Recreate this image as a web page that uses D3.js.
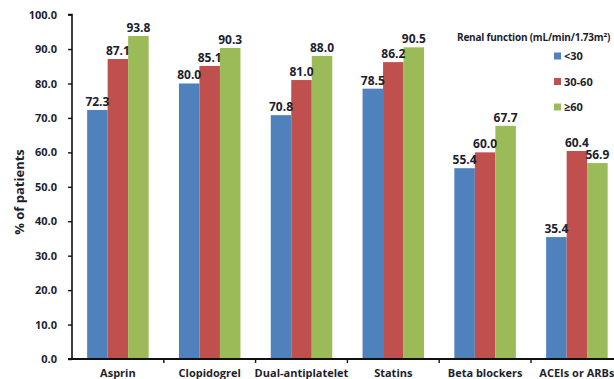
<!DOCTYPE html>
<html>
<head>
<meta charset="utf-8">
<script src="https://cdn.jsdelivr.net/npm/d3@7"></script>
<style>
  html, body { margin: 0; padding: 0; background: #fff; overflow: hidden; }
  svg { display: block; }
  text { font-family: "Open Sans", "Noto Sans", sans-serif; font-weight: bold; fill: #1e1e2e; }
</style>
</head>
<body>
<svg id="chart" width="614" height="379"></svg>
<script>
// Guideline-recommended therapy by renal function group
const categories = ["Asprin", "Clopidogrel", "Dual-antiplatelet", "Statins", "Beta blockers", "ACEIs or ARBs"];
const seriesNames = ["<30", "30-60", "≥60"];
const lt30   = [72.3, 80.0, 70.8, 78.5, 55.4, 35.4];
const mid    = [87.1, 85.1, 81.0, 86.2, 60.0, 60.4];
const ge60   = [93.8, 90.3, 88.0, 90.5, 67.7, 56.9];
const colors = ["#4f81bd", "#c0504d", "#9bbb59"];
const yTicks = [0, 10, 20, 30, 40, 50, 60, 70, 80, 90, 100];
const legendTitle = "Renal function (mL/min/1.73m²)";

const seriesValues = [lt30, mid, ge60];
const svg = d3.select("#chart");

const plotLeft = 72, plotBottom = 359, plotTop = 14.6;
const step = 91.8;
const pad = 0.33;

const x0 = d3.scaleBand()
  .domain(categories)
  .range([plotLeft, plotLeft + step * categories.length])
  .paddingInner(pad)
  .paddingOuter(pad / 2);

const x1 = d3.scaleBand()
  .domain(seriesNames)
  .range([0, x0.bandwidth()])
  .padding(0);

const y = d3.scaleLinear().domain([0, 100]).range([plotBottom, plotTop]);

// bars
const groups = svg.append("g").selectAll("g")
  .data(categories)
  .join("g")
  .attr("transform", c => `translate(${x0(c)},0)`);

groups.selectAll("rect")
  .data((c, i) => seriesNames.map((s, j) => ({ s, v: seriesValues[j][i], j })))
  .join("rect")
  .attr("x", d => x1(d.s))
  .attr("y", d => y(d.v))
  .attr("width", x1.bandwidth())
  .attr("height", d => y(0) - y(d.v))
  .attr("fill", d => colors[d.j]);

groups.selectAll("text.val")
  .data((c, i) => seriesNames.map((s, j) => ({ s, v: seriesValues[j][i], j })))
  .join("text")
  .attr("class", "val")
  .attr("x", d => x1(d.s) + x1.bandwidth() / 2)
  .attr("y", d => y(d.v) - 4)
  .attr("text-anchor", "middle")
  .style("font-size", "12px")
  .text(d => d.v.toFixed(1));

// y axis
const yAxis = d3.axisLeft(y)
  .tickValues(yTicks)
  .tickFormat(d3.format(".1f"))
  .tickSize(4)
  .tickPadding(11);

const yg = svg.append("g").attr("transform", `translate(${plotLeft},0)`).call(yAxis);
yg.select(".domain").attr("stroke", "#111").attr("stroke-width", 1.6).attr("d", `M-4,${plotTop}H0V${plotBottom}H-4`);
yg.selectAll(".tick line").attr("stroke", "#111").attr("stroke-width", 1.4);
yg.selectAll(".tick text").style("font-size", "11px").style("font-family", "\"Open Sans\", sans-serif").attr("fill", "#1e1e2e");

// x axis: labels centred under groups, ticks at group boundaries
const xAxis = d3.axisBottom(x0).tickSize(0).tickPadding(10);
const xg = svg.append("g").attr("transform", `translate(0,${plotBottom})`).call(xAxis);
xg.select(".domain").remove();
xg.selectAll(".tick text").style("font-size", "11px").style("font-family", "\"Open Sans\", sans-serif").attr("fill", "#1e1e2e");

svg.append("line")
  .attr("x1", plotLeft - 4).attr("x2", 614)
  .attr("y1", plotBottom).attr("y2", plotBottom)
  .attr("stroke", "#111").attr("stroke-width", 1.8);

svg.append("g").selectAll("line")
  .data(categories.slice(0, -1))
  .join("line")
  .attr("x1", c => x0(c) + x0.bandwidth() + (x0.step() - x0.bandwidth()) / 2)
  .attr("x2", c => x0(c) + x0.bandwidth() + (x0.step() - x0.bandwidth()) / 2)
  .attr("y1", plotBottom).attr("y2", plotBottom + 4)
  .attr("stroke", "#111").attr("stroke-width", 1.4);

// y axis title
svg.append("text")
  .attr("transform", "translate(24,192) rotate(-90)")
  .attr("text-anchor", "middle")
  .style("font-size", "13px")
  .text("% of patients");

// legend
svg.append("text")
  .attr("x", 457).attr("y", 41)
  .style("font-size", "10px")
  .style("letter-spacing", "-0.2px")
  .text(legendTitle);

const leg = svg.append("g").selectAll("g")
  .data(seriesNames)
  .join("g")
  .attr("transform", (d, i) => `translate(554,${56 + i * 25.5})`);
leg.append("rect").attr("x", 0).attr("y", -3.5).attr("width", 7).attr("height", 7).attr("fill", (d, i) => colors[i]);
leg.append("text").attr("x", 10).attr("y", 4).style("font-size", "11px").text(d => d);
</script>
</body>
</html>
